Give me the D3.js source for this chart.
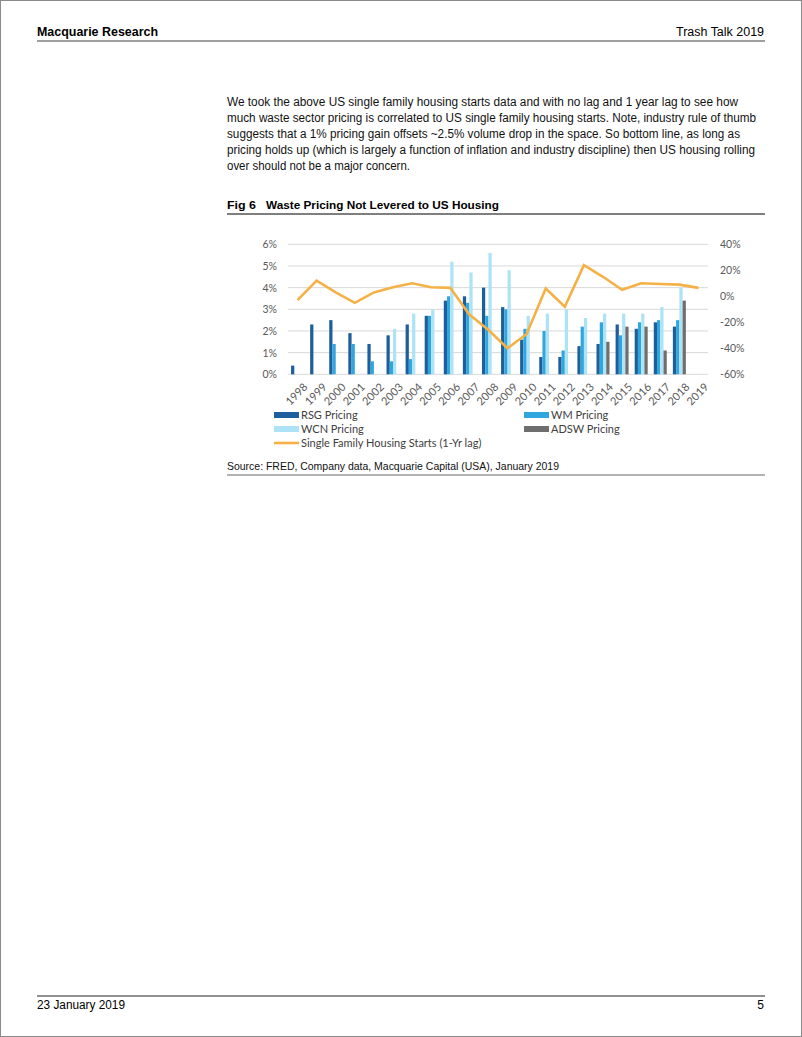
<!DOCTYPE html>
<html>
<head>
<meta charset="utf-8">
<script src="https://cdn.jsdelivr.net/npm/d3@7"></script>
<style>
  body { margin: 0; background: #fff; }
  svg { display: block; }
</style>
</head>
<body>
<div id="page"></div>
<script>
// chart data
const years = ["1998","1999","2000","2001","2002","2003","2004","2005","2006","2007","2008",
               "2009","2010","2011","2012","2013","2014","2015","2016","2017","2018","2019"];
const rsg  = [0.4, 2.3, 2.5, 1.9, 1.4, 1.8, 2.3, 2.7, 3.4, 3.6, 4.0, 3.1, 1.6, 0.8, 0.8, 1.3, 1.4, 2.3, 2.1, 2.4, 2.2, null];
const wm   = [null, null, 1.4, 1.4, 0.6, 0.6, 0.7, 2.7, 3.6, 3.3, 2.7, 3.0, 2.1, 2.0, 1.1, 2.2, 2.4, 1.8, 2.4, 2.5, 2.5, null];
const wcn  = [null, null, null, null, null, 2.1, 2.8, 3.0, 5.2, 4.7, 5.6, 4.8, 2.7, 2.8, 3.0, 2.6, 2.8, 2.8, 2.8, 3.1, 4.0, null];
const adsw = [null, null, null, null, null, null, null, null, null, null, null, null, null, null, null, null, 1.5, 2.2, 2.2, 1.1, 3.4, null];
const housing = [-3, 12, 3, -5, 3, 7, 10, 7, 6.5, -14, -26, -40, -29, 6, -8, 24, 15, 5, 10, 9.5, 9, 6.5];
const leftTicks = [0, 1, 2, 3, 4, 5, 6];
const rightTicks = [-60, -40, -20, 0, 20, 40];

const seriesNames = ["RSG Pricing", "WM Pricing", "WCN Pricing", "ADSW Pricing"];
const seriesVals = [rsg, wm, wcn, adsw];
const colors = ["#1D5E9C", "#2FA6DD", "#ADE3F6", "#6E6E6E"];
const lineColor = "#F5B145";

const svg = d3.select("#page").append("svg")
    .attr("width", 802)
    .attr("height", 1037);

svg.append("rect")
    .attr("x", 0.5).attr("y", 0.5)
    .attr("width", 801).attr("height", 1036)
    .style("fill", "#fff")
    .style("stroke", "#8a8a8a");

const serif = "Liberation Sans, Arial, sans-serif";
const chartFont = "Lato, 'Open Sans', sans-serif";

// fitted text helper
function txt(x, y, s, w, opts) {
    opts = opts || {};
    const t = svg.append("text")
        .attr("x", x).attr("y", y)
        .text(s)
        .style("font-family", opts.family || serif)
        .style("font-size", (opts.size || 12) + "px")
        .style("font-weight", opts.bold ? "bold" : "normal")
        .style("fill", opts.fill || "#000");
    if (opts.anchor) t.attr("text-anchor", opts.anchor);
    if (w) t.attr("textLength", w).attr("lengthAdjust", "spacingAndGlyphs");
    return t;
}

// page header
txt(37, 36, "Macquarie Research", 121, {bold: true, size: 12});
txt(676, 36, "Trash Talk 2019", 88, {size: 12});
svg.append("line")
    .attr("x1", 37).attr("x2", 765).attr("y1", 41).attr("y2", 41)
    .style("stroke", "#7f7f7f").style("stroke-width", 1.5);

// body paragraph
const para = [
    ["We took the above US single family housing starts data and with no lag and 1 year lag to see how", 511],
    ["much waste sector pricing is correlated to US single family housing starts. Note, industry rule of thumb", 529],
    ["suggests that a 1% pricing gain offsets ~2.5% volume drop in the space. So bottom line, as long as", 513],
    ["pricing holds up (which is largely a function of inflation and industry discipline) then US housing rolling", 528],
    ["over should not be a major concern.", 183]
];
para.forEach((p, i) => txt(227, 106 + i * 16, p[0], p[1], {size: 12, fill: "#111"}));

// figure title
txt(227, 209, "Fig 6", 29, {bold: true, size: 11});
txt(266, 209, "Waste Pricing Not Levered to US Housing", 233, {bold: true, size: 11});
svg.append("line")
    .attr("x1", 227).attr("x2", 765).attr("y1", 214).attr("y2", 214)
    .style("stroke", "#555").style("stroke-width", 1.5);

// scales
const x0 = d3.scaleBand().domain(years).range([288, 708]).paddingInner(0.32).paddingOuter(0.16);
const x1 = d3.scaleBand().domain(d3.range(4)).range([0, x0.bandwidth()]);
const yL = d3.scaleLinear().domain([0, 6]).range([374.3, 244.3]);
const yR = d3.scaleLinear().domain([-60, 40]).range([374.3, 244.3]);
const xc = d => x0(d) + x0.bandwidth() / 2;

// gridlines
svg.append("g").selectAll("line")
    .data(leftTicks).join("line")
    .attr("x1", 288).attr("x2", 708)
    .attr("y1", d => yL(d)).attr("y2", d => yL(d))
    .style("stroke", "#d9d9d9").style("stroke-width", 1);

// left axis
const axL = svg.append("g").attr("transform", "translate(288,0)")
    .call(d3.axisLeft(yL).tickValues(leftTicks).tickFormat(d => d + "%").tickSize(0).tickPadding(11));
axL.select(".domain").remove();
axL.selectAll("text").style("font-family", chartFont).style("font-size", "10.5px").style("fill", "#595959");

// right axis
const axR = svg.append("g").attr("transform", "translate(708,0)")
    .call(d3.axisRight(yR).tickValues(rightTicks).tickFormat(d => d + "%").tickSize(0).tickPadding(12));
axR.select(".domain").remove();
axR.selectAll("text").style("font-family", chartFont).style("font-size", "10.5px").style("fill", "#595959");

// bars
seriesVals.forEach((vals, s) => {
    svg.append("g").selectAll("rect")
        .data(years.map((yr, i) => ({yr: yr, v: vals[i]})).filter(d => d.v != null))
        .join("rect")
        .attr("x", d => x0(d.yr) + x1(s))
        .attr("width", x1.bandwidth())
        .attr("y", d => yL(d.v))
        .attr("height", d => yL(0) - yL(d.v))
        .style("fill", colors[s]);
});

// housing starts line
const line = d3.line().x((d, i) => xc(years[i])).y(d => yR(d));
svg.append("path")
    .datum(housing)
    .attr("d", line)
    .style("fill", "none")
    .style("stroke", lineColor)
    .style("stroke-width", 2.6)
    .style("stroke-linejoin", "miter");

// x labels, rotated
svg.append("g").selectAll("text")
    .data(years).join("text")
    .attr("transform", d => "translate(" + (xc(d) + 5) + ",382) rotate(-45)")
    .attr("text-anchor", "end")
    .attr("dy", "0.75em")
    .text(d => d)
    .style("font-family", chartFont)
    .style("font-size", "11px")
    .style("fill", "#595959");

// legend
const legend = [
    {name: seriesNames[0], color: colors[0], x: 274, y: 415},
    {name: seriesNames[1], color: colors[1], x: 524, y: 415},
    {name: seriesNames[2], color: colors[2], x: 274, y: 429},
    {name: seriesNames[3], color: colors[3], x: 524, y: 429}
];
const lg = svg.append("g");
lg.selectAll("rect").data(legend).join("rect")
    .attr("x", d => d.x).attr("y", d => d.y - 3)
    .attr("width", 25).attr("height", 6)
    .style("fill", d => d.color);
lg.selectAll("text").data(legend).join("text")
    .attr("x", d => d.x + 27).attr("y", d => d.y + 4)
    .text(d => d.name)
    .style("font-family", chartFont).style("font-size", "11px").style("fill", "#404040");
lg.append("line")
    .attr("x1", 274).attr("x2", 299).attr("y1", 443).attr("y2", 443)
    .style("stroke", lineColor).style("stroke-width", 2.6);
lg.append("text")
    .attr("x", 301).attr("y", 447)
    .text("Single Family Housing Starts (1-Yr lag)")
    .style("font-family", chartFont).style("font-size", "11px").style("fill", "#404040");

// source
txt(227, 470, "Source: FRED, Company data, Macquarie Capital (USA), January 2019", 332, {size: 11, fill: "#111"});
svg.append("line")
    .attr("x1", 227).attr("x2", 765).attr("y1", 475).attr("y2", 475)
    .style("stroke", "#9a9a9a").style("stroke-width", 1.5);

// footer
svg.append("line")
    .attr("x1", 37).attr("x2", 765).attr("y1", 996).attr("y2", 996)
    .style("stroke", "#222").style("stroke-width", 1);
txt(37, 1009, "23 January 2019", 88, {size: 12});
txt(764, 1009, "5", null, {size: 12, anchor: "end"});
</script>
</body>
</html>
